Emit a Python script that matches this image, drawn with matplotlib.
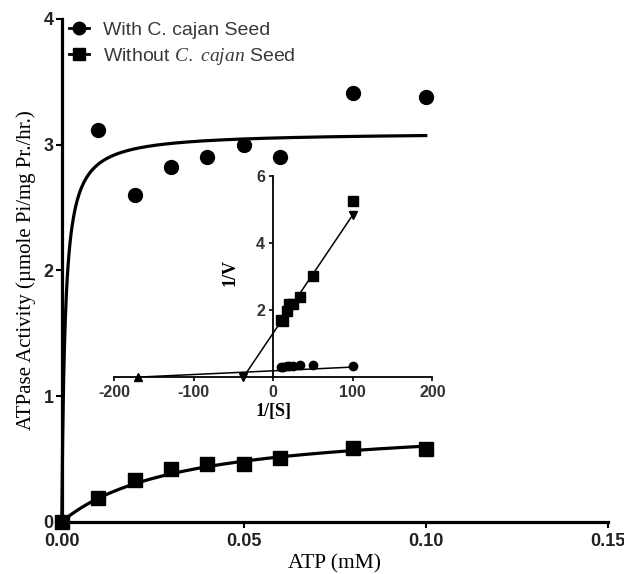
import matplotlib
matplotlib.use("Agg")
import numpy as np
import matplotlib.pyplot as plt
from matplotlib.lines import Line2D

plt.rcParams["mathtext.fontset"] = "custom"
plt.rcParams["mathtext.it"] = "Liberation Serif:italic"
plt.rcParams["mathtext.rm"] = "Liberation Sans"
plt.rcParams["axes.unicode_minus"] = False

# substrate concentrations (mM)
atp = [0.0, 0.01, 0.02, 0.03, 0.04, 0.05, 0.06, 0.08, 0.10]
with_seed = [0.0, 3.12, 2.60, 2.82, 2.90, 3.00, 2.90, 3.41, 3.38]
without_seed = [0.0, 0.19, 0.33, 0.42, 0.46, 0.46, 0.51, 0.59, 0.58]

# Michaelis-Menten fit parameters
vmax_with, km_with = 3.10, 0.0009
vmax_without, km_without = 0.80, 0.033

# Lineweaver-Burk inset
inv_s = [100, 50, 33.3, 25, 20, 16.7, 12.5, 10]
inv_v_with = [0.32, 0.36, 0.35, 0.34, 0.33, 0.34, 0.30, 0.30]
inv_v_without = [5.26, 3.03, 2.38, 2.17, 2.17, 1.96, 1.69, 1.72]
fit_without_x = [-37.5, 100]
fit_without_y = [0.0, 4.85]
fit_with_x = [-170, 100]
fit_with_y = [0.0, 0.30]

sans = "Liberation Sans"
serif = "Liberation Serif"

fig = plt.figure(figsize=(6.24, 5.74), dpi=100)
ax = fig.add_axes([0.099, 0.091, 0.875, 0.876])

xs = np.linspace(0, 0.10, 400)
ax.plot(xs, vmax_with * xs / (km_with + xs), color="black", lw=2.3, clip_on=False)
ax.plot(xs, vmax_without * xs / (km_without + xs), color="black", lw=2.3, clip_on=False)
ax.plot(atp[1:], with_seed[1:], "o", color="black", ms=10, clip_on=False, zorder=5)
ax.plot(atp, without_seed, "s", color="black", ms=9.5, clip_on=False, zorder=5)

ax.set_xlim(0, 0.15)
ax.set_ylim(0, 4)
ax.set_xticks([0, 0.05, 0.10, 0.15])
ax.set_xticklabels(["0.00", "0.05", "0.10", "0.15"])
ax.set_yticks([0, 1, 2, 3, 4])
for s in ["top", "right"]:
    ax.spines[s].set_visible(False)
for s in ["left", "bottom"]:
    ax.spines[s].set_linewidth(2.3)
ax.tick_params(width=1.5, length=4)
ax.tick_params(axis="x", pad=4)
ax.tick_params(axis="y", pad=2)
for lab in ax.get_xticklabels() + ax.get_yticklabels():
    lab.set_fontfamily(sans)
    lab.set_fontsize(13)
    lab.set_fontweight("bold")
    lab.set_color("#222222")
ax.set_xlabel("ATP (mM)", fontfamily=serif, fontsize=15.5, labelpad=3)
ax.set_ylabel("ATPase Activity (\u00b5mole Pi/mg Pr./hr.)", fontfamily=serif,
              fontsize=15, labelpad=5)

handles = [
    Line2D([], [], color="black", lw=2, marker="o", ms=9),
    Line2D([], [], color="black", lw=2, marker="s", ms=9),
]
labels = ["With C. cajan Seed", r"Without $\mathit{C.\ cajan}$ Seed"]
leg = ax.legend(handles, labels, loc="upper left", bbox_to_anchor=(-0.018, 1.03),
                frameon=False, handlelength=1.0, handletextpad=0.7,
                labelspacing=0.35, prop={"family": sans, "size": 14})
for t in leg.get_texts():
    t.set_color("#3a3a3a")

# inset
ins = fig.add_axes([0.183, 0.343, 0.510, 0.350])
ins.set_facecolor("none")
ins.plot(fit_without_x, fit_without_y, color="black", lw=1.1)
ins.plot(fit_with_x, fit_with_y, color="black", lw=1.1)
ins.plot(fit_without_x, fit_without_y, "v", color="black", ms=6, clip_on=False)
ins.plot(fit_with_x[:1], fit_with_y[:1], "^", color="black", ms=6, clip_on=False)
ins.plot(inv_s, inv_v_without, "s", color="black", ms=6.5, clip_on=False)
ins.plot(inv_s, inv_v_with, "o", color="black", ms=6, clip_on=False)
ins.set_xlim(-200, 200)
ins.set_ylim(0, 6)
ins.set_xticks([-200, -100, 0, 100, 200])
ins.set_yticks([2, 4, 6])
ins.spines["left"].set_position(("data", 0))
for s in ["top", "right"]:
    ins.spines[s].set_visible(False)
for s in ["left", "bottom"]:
    ins.spines[s].set_linewidth(1.3)
ins.tick_params(width=1.2, length=3, pad=3)
for lab in ins.get_xticklabels() + ins.get_yticklabels():
    lab.set_fontfamily(sans)
    lab.set_fontsize(11.5)
    lab.set_fontweight("bold")
    lab.set_color("#333333")
ins.set_xlabel("1/[S]", fontfamily=serif, fontsize=13, fontweight="bold", labelpad=2)
ins.set_ylabel("1/V", fontfamily=serif, fontsize=13, fontweight="bold")
ins.yaxis.set_label_coords(0.39, 0.52)

fig.savefig("out.png", dpi=100)
